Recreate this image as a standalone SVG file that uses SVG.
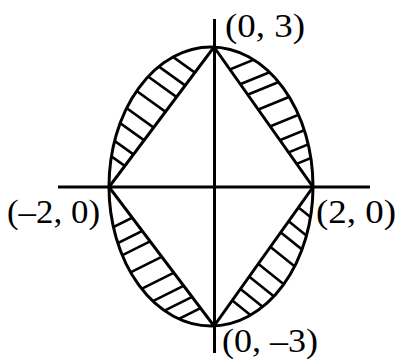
<svg xmlns="http://www.w3.org/2000/svg" width="396" height="363" viewBox="0 0 396 363">
<style>
.ln{stroke:#000;stroke-width:3;fill:none;stroke-linecap:butt}
.h{stroke:#000;stroke-width:2.6;fill:none}
.lb{font-family:"Liberation Serif","Times New Roman",serif;font-size:33px;fill:#000}
</style>
<defs>
<clipPath id="ell"><ellipse cx="211" cy="186.5" rx="102" ry="139.5"/></clipPath>
<clipPath id="out"><path clip-rule="evenodd" d="M0,0H396V363H0Z M214,47 L313,187 L214,326 L109,187Z"/></clipPath>
</defs>
<rect width="396" height="363" fill="#fff"/>
<g id="hatching" clip-path="url(#ell)">
<g clip-path="url(#out)">
<g id="hatch-ul">
<line class="h" x1="154.1" y1="43.3" x2="210.9" y2="84.1"/>
<line class="h" x1="142.9" y1="55.1" x2="199.7" y2="95.9"/>
<line class="h" x1="133.8" y1="66.3" x2="190.6" y2="107.1"/>
<line class="h" x1="122.4" y1="80.8" x2="179.2" y2="121.6"/>
<line class="h" x1="112.9" y1="98.3" x2="169.7" y2="139.1"/>
<line class="h" x1="103.8" y1="111.3" x2="160.6" y2="152.1"/>
<line class="h" x1="95.4" y1="127.1" x2="152.2" y2="167.9"/>
<line class="h" x1="88.8" y1="140.1" x2="145.6" y2="180.9"/>
</g>
<g id="hatch-ur">
<line class="h" x1="210.4" y1="77.5" x2="275.2" y2="50.9"/>
<line class="h" x1="224.3" y1="90.8" x2="289.1" y2="64.2"/>
<line class="h" x1="232.9" y1="100.8" x2="297.7" y2="74.2"/>
<line class="h" x1="243.1" y1="115.8" x2="307.9" y2="89.2"/>
<line class="h" x1="253.4" y1="133.3" x2="318.2" y2="106.7"/>
<line class="h" x1="260.9" y1="148" x2="325.7" y2="121.4"/>
<line class="h" x1="266.3" y1="161.6" x2="331.1" y2="135"/>
<line class="h" x1="271.8" y1="174.1" x2="336.6" y2="147.5"/>
</g>
<g id="hatch-ll">
<line class="h" x1="92" y1="237.8" x2="154.6" y2="206.6"/>
<line class="h" x1="98.4" y1="252.8" x2="161" y2="221.6"/>
<line class="h" x1="104.5" y1="264.1" x2="167.1" y2="232.9"/>
<line class="h" x1="114.5" y1="280.3" x2="177.1" y2="249.1"/>
<line class="h" x1="127" y1="296.1" x2="189.6" y2="264.9"/>
<line class="h" x1="137.9" y1="308.6" x2="200.5" y2="277.4"/>
<line class="h" x1="147" y1="319.4" x2="209.6" y2="288.2"/>
<line class="h" x1="157.9" y1="329.4" x2="220.5" y2="298.2"/>
</g>
<g id="hatch-lr">
<line class="h" x1="276.5" y1="189.8" x2="331.1" y2="233.6"/>
<line class="h" x1="271" y1="207.1" x2="325.6" y2="250.9"/>
<line class="h" x1="263.9" y1="218.9" x2="318.5" y2="262.7"/>
<line class="h" x1="254.9" y1="234.4" x2="309.5" y2="278.2"/>
<line class="h" x1="243.5" y1="251.9" x2="298.1" y2="295.7"/>
<line class="h" x1="233.5" y1="263.9" x2="288.1" y2="307.7"/>
<line class="h" x1="224.4" y1="276.1" x2="279" y2="319.9"/>
<line class="h" x1="212.7" y1="284.8" x2="267.3" y2="328.6"/>
</g>
</g>
</g>
<g id="ellipse">
<ellipse class="ln" cx="211" cy="186.5" rx="102" ry="139.5"/>
</g>
<g id="rhombus">
<path class="ln" stroke-linejoin="miter" d="M214,47 L313,187 L214,326 L109,187Z"/>
</g>
<g id="axes">
<line class="ln" x1="58" y1="187" x2="370" y2="187"/>
<line class="ln" x1="214.5" y1="19" x2="214.5" y2="353"/>
</g>
<g id="labels">
<text class="lb" x="225" y="36.5" textLength="80" lengthAdjust="spacingAndGlyphs">(0, 3)</text>
<text class="lb" x="7" y="222.5" textLength="93" lengthAdjust="spacingAndGlyphs">(–2, 0)</text>
<text class="lb" x="316" y="222.5" textLength="80" lengthAdjust="spacingAndGlyphs">(2, 0)</text>
<text class="lb" x="222" y="351.5" textLength="96" lengthAdjust="spacingAndGlyphs">(0, –3)</text>
</g>
</svg>
